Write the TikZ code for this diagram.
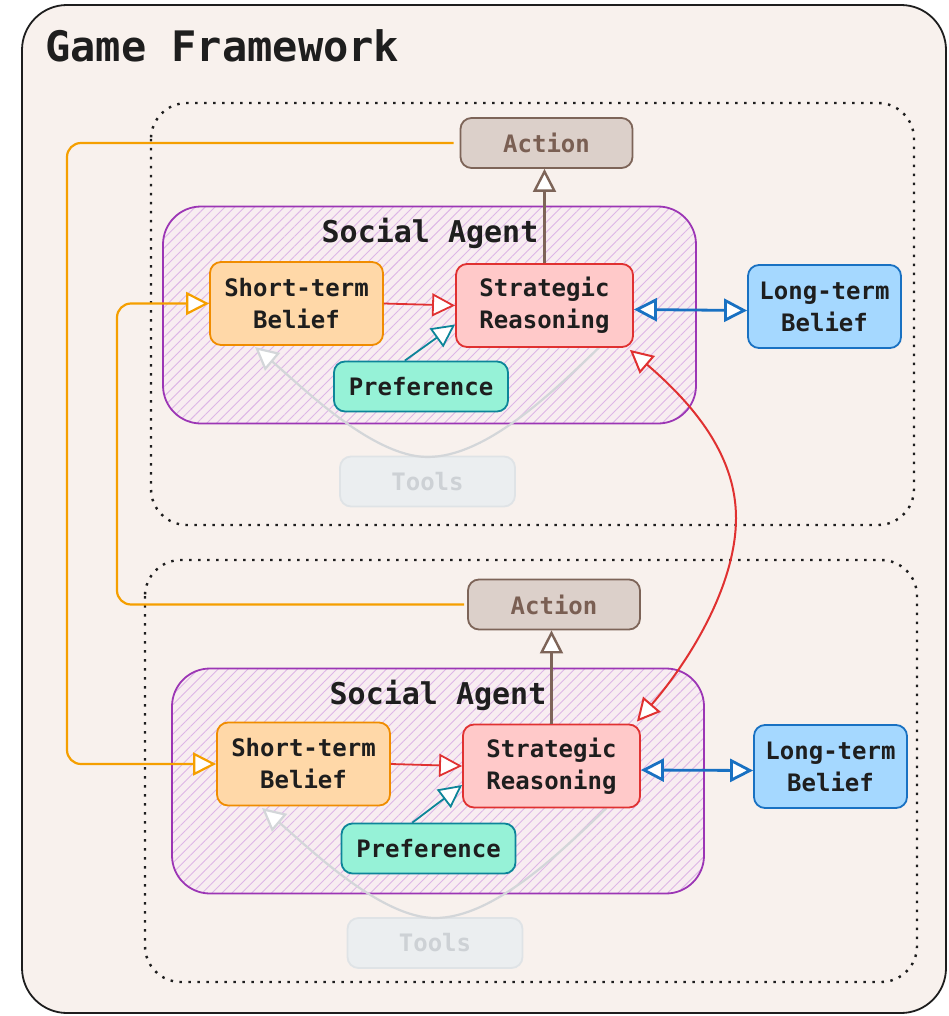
\documentclass[tikz,border=0pt]{standalone}
\usepackage{fontspec}
\setmainfont{DejaVu Sans Mono}
\usetikzlibrary{arrows.meta,patterns.meta}

\definecolor{bgc}{HTML}{F8F1ED}
\definecolor{ink}{HTML}{1E1E1E}
\definecolor{actfill}{HTML}{DCD0CA}
\definecolor{actline}{HTML}{7D6458}
\definecolor{acttext}{HTML}{7A5F53}
\definecolor{stfill}{HTML}{FFD8A8}
\definecolor{stline}{HTML}{F08C00}
\definecolor{srfill}{HTML}{FFC9C9}
\definecolor{srline}{HTML}{E03131}
\definecolor{pffill}{HTML}{96F2D7}
\definecolor{pfline}{HTML}{0C8599}
\definecolor{ltfill}{HTML}{A5D8FF}
\definecolor{ltline}{HTML}{1971C2}
\definecolor{tlfill}{HTML}{EBEEF0}
\definecolor{tlline}{HTML}{DFE3E6}
\definecolor{tltext}{HTML}{CDD1D5}
\definecolor{agline}{HTML}{9C36B5}
\definecolor{agfill}{HTML}{F8EDF1}
\definecolor{hatch}{HTML}{DDB6E6}
\definecolor{orng}{HTML}{F59F00}
\definecolor{toolarc}{HTML}{D3D6D9}

\tikzset{
  tri/.tip={Triangle[length=23pt,width=23pt,fill=white]},
  box/.style={rounded corners=11pt, line width=1.8pt, align=center, inner sep=0pt,
    text=ink, font=\fontsize{24}{32}\selectfont\bfseries},
  tallbox/.style={box, minimum height=83pt},
  flatbox/.style={box, minimum height=50pt},
  actbox/.style={flatbox, fill=actfill, draw=actline, text=acttext, minimum width=172pt},
  stbox/.style={tallbox, fill=stfill, draw=stline, minimum width=173pt},
  srbox/.style={tallbox, fill=srfill, draw=srline, minimum width=177pt},
  pfbox/.style={flatbox, fill=pffill, draw=pfline, minimum width=174pt},
  ltbox/.style={tallbox, fill=ltfill, draw=ltline, minimum width=153pt},
  tlbox/.style={flatbox, fill=tlfill, draw=tlline, text=tltext, minimum width=175pt},
  agentbox/.style={rounded corners=38pt, line width=1.8pt, draw=agline,
    preaction={fill=agfill},
    pattern={Lines[angle=45,distance=7pt,line width=0.9pt]}, pattern color=hatch},
  dotbox/.style={rounded corners=36pt, line width=2.4pt, draw=ink,
    dash pattern=on 2.5pt off 6.5pt},
  agentlabel/.style={text=ink, font=\fontsize{30}{36}\selectfont\bfseries, inner sep=0pt},
  flow/.style={-tri, line width=1.8pt},
  bothflow/.style={tri-tri, line width=1.8pt},
}

\begin{document}
\begin{tikzpicture}[x=1pt,y=-1pt]
\useasboundingbox (0,0) rectangle (948,1016);

% outer frame
\draw[fill=bgc, draw=ink, line width=1.8pt, rounded corners=45pt] (22,5) rectangle (946,1013);
\node[anchor=base west, text=ink, inner sep=0pt, font=\fontsize{42}{48}\selectfont\bfseries]
  (title) at (45,62) {Game Framework};

% the two agent scopes
\draw[dotbox] (151,103) rectangle (914,525);
\draw[dotbox] (145,560) rectangle (917,982);

\node[agentbox, minimum width=533pt, minimum height=217pt] (ag1) at (429.5,315) {};
\node[agentbox, minimum width=532pt, minimum height=225pt] (ag2) at (438,781) {};
\node[agentlabel] (sa1) at (430,233) {Social Agent};
\node[agentlabel] (sa2) at (438,695) {Social Agent};

% tool loops (behind the boxes)
\coordinate (tp1) at (427.5,457);
\coordinate (tp2) at (435,918);

% ---------- upper agent ----------
\node[tlbox] (tl1) at (427.5,481.5) {Tools};
\draw[flow, draw=toolarc, line width=2.2pt]
  (544.5,305)++(55,42) coordinate (tr1)
  (tr1) .. controls (550,395) and (485,457) .. (tp1)
        .. controls (372,457) and (300,385) .. (255,347) coordinate (te1);

\node[actbox] (act1) at (546.5,143) {Action};
\node[stbox] (sb1) at (296.5,303.5) {Short-term\\Belief};
\node[srbox] (sr1) at (544.5,305.5) {Strategic\\Reasoning};
\node[pfbox] (pf1) at (421,386.5) {Preference};
\node[ltbox] (lb1) at (824.5,306.5) {Long-term\\Belief};

% ---------- lower agent ----------
\node[tlbox] (tl2) at (435,943) {Tools};
\draw[flow, draw=toolarc, line width=2.2pt]
  (551.5,766)++(55,42) coordinate (tr2)
  (tr2) .. controls (557,856) and (492,918) .. (tp2)
        .. controls (380,918) and (307,846) .. (262,808) coordinate (te2);

\node[actbox] (act2) at (554,604.5) {Action};
\node[stbox] (sb2) at (303.5,764) {Short-term\\Belief};
\node[srbox] (sr2) at (551.5,766) {Strategic\\Reasoning};
\node[pfbox] (pf2) at (428.5,848.5) {Preference};
\node[ltbox] (lb2) at (830.5,766.5) {Long-term\\Belief};

% ---------- connectors inside each agent ----------
\foreach \i in {1,2}{
  \draw[flow, draw=actline, line width=2.4pt] (sr\i.north) -- (sr\i.north |- act\i.south);
  \draw[flow, draw=srline] (sb\i.east) -- (sr\i.west);
  \draw[flow, draw=pfline] (pf\i.122) -- (sr\i.192);
  \draw[bothflow, draw=ltline, line width=2.8pt] ([yshift=-4pt]sr\i.east) -- ([yshift=-4pt]lb\i.west);
}

% ---------- actions feed the other agent's short-term belief ----------
\coordinate (lane1) at (67,0);
\coordinate (lane2) at (117,0);
\draw[flow, draw=orng, line width=2.2pt, rounded corners=14pt]
  ([xshift=-6pt]act1.west) -- (act1.west -| lane1) |- (sb2.west);
\draw[flow, draw=orng, line width=2.2pt, rounded corners=14pt]
  ([xshift=-3pt]act2.west) -- (act2.west -| lane2) |- (sb1.west);

% ---------- reasoning exchange between the agents ----------
\coordinate (bend) at (736,518);
\draw[bothflow, draw=srline, line width=2pt]
  ([shift={(-4pt,-2pt)}]sr1.south east) .. controls (700,410) and (736,460) .. (bend)
  .. controls (736,585) and (690,660) .. ([shift={(-4pt,2pt)}]sr2.north east);

\end{tikzpicture}
\end{document}
